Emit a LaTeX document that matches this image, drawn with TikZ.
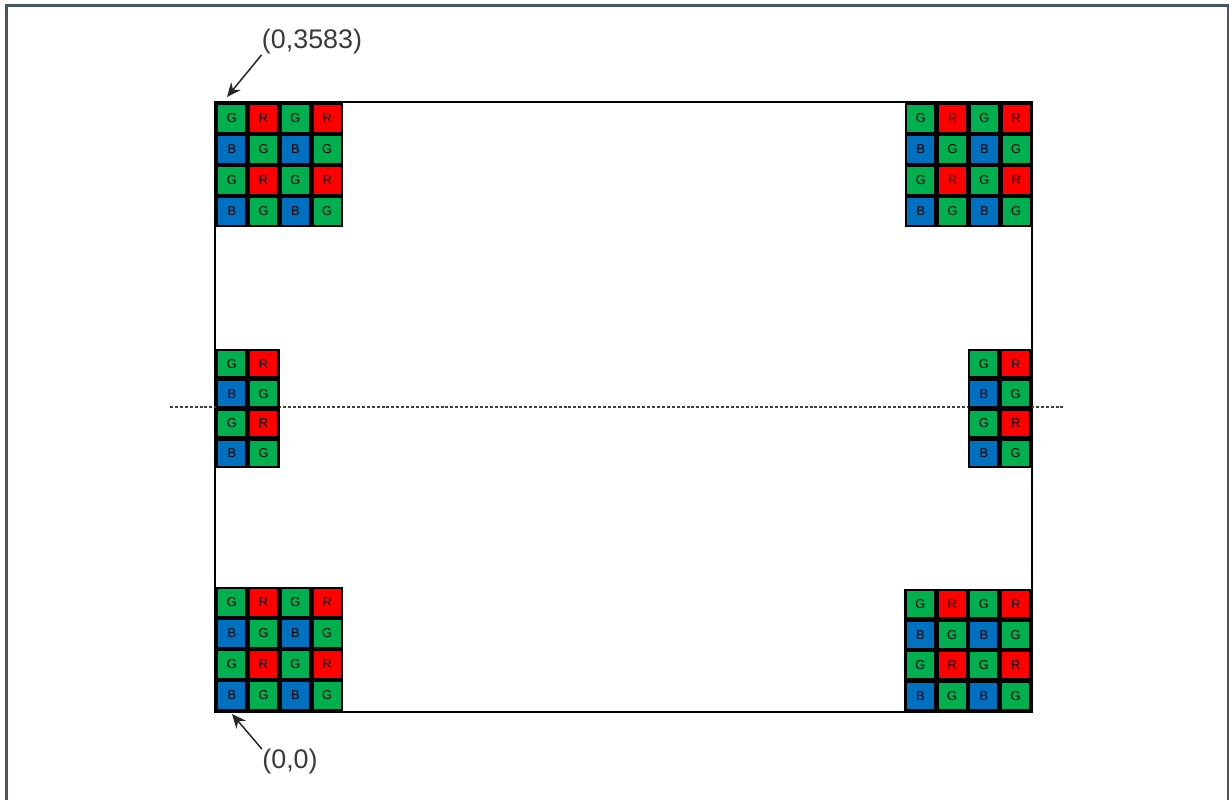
\documentclass[tikz,border=0pt]{standalone}
\usepackage{fontspec}
\setmainfont{Liberation Sans}
\usepackage{xcolor}
\usetikzlibrary{arrows.meta}

\definecolor{bayerG}{HTML}{00B050}
\definecolor{bayerR}{HTML}{FF0000}
\definecolor{bayerB}{HTML}{0070C0}
\definecolor{framegray}{HTML}{475763}
\definecolor{labelgray}{HTML}{3A3A3A}

\tikzset{
  cell/.style={draw=black, line width=1.4pt, inner sep=0pt,
    font=\fontsize{7.3}{8}\selectfont, text=black},
  px0/.style={fill=bayerG}, px1/.style={fill=bayerB},
  px2/.style={fill=bayerR}, px3/.style={fill=bayerG},
  coordlabel/.style={text=labelgray, inner sep=0pt,
    font=\fontsize{15.3}{18}\selectfont},
  pointer/.style={-{Stealth[length=8pt,width=7pt]}, line width=0.85pt, black!85},
  dashline/.style={black!75, line width=0.6pt, dash pattern=on 1.7pt off 1.1pt}
}

% #1 name, #2 left x, #3 top y, #4 columns, #5 row pitch (px)
\newcommand{\bayerblock}[5]{%
  \foreach \r in {1,...,4}
    \foreach \c in {1,...,#4} {
      \pgfmathtruncatemacro\k{mod(\r,2)*2+mod(\c,2)}
      \node[cell, px\k, minimum width=29.5*0.02cm, minimum height=(#5-2.25)*0.02cm]
        (#1-\r-\c) at ({#2+(\c-0.5)*31.75}, {#3+(\r-0.5)*#5})
        {\ifcase\k G\or B\or R\or G\fi};
    }%
}

\begin{document}
\begin{tikzpicture}[x=0.02cm,y=-0.02cm]
  \useasboundingbox (0,0) rectangle (1229,799);
  % page frame
  \draw[framegray, line width=1.7pt] (6.5,820) -- (6.5,5.5) -- (1228,5.5) -- (1228,820);

  % sensor outline
  \coordinate (sensorTL) at (215,102);
  \coordinate (sensorBR) at (1032,712);
  \draw[line width=1.6pt] (sensorTL) rectangle (sensorBR);

  % centre line
  \coordinate (dashL) at (170,407);
  \coordinate (dashR) at (1063,407);
  \draw[dashline] (dashL) -- (dashR);

  % pixel blocks
  \bayerblock{tl}{216}{103}{4}{31}
  \bayerblock{tr}{905}{103}{4}{31}
  \bayerblock{ml}{216}{349}{2}{29.75}
  \bayerblock{mr}{968}{349}{2}{29.75}
  \bayerblock{bl}{216}{587}{4}{31}
  \bayerblock{br}{904.5}{589}{4}{30.5}

  % corner coordinates
  \node[coordlabel] (lblTop) at (312,42) {(0,3583)};
  \node[coordlabel] (lblOrigin) at (290,762) {(0,0)};
  \coordinate (ptTop) at (227,97);
  \coordinate (ptOrigin) at (232,714);
  \draw[pointer] (lblTop.south west) -- (ptTop);
  \draw[pointer] (lblOrigin.north west) -- (ptOrigin);
\end{tikzpicture}
\end{document}
